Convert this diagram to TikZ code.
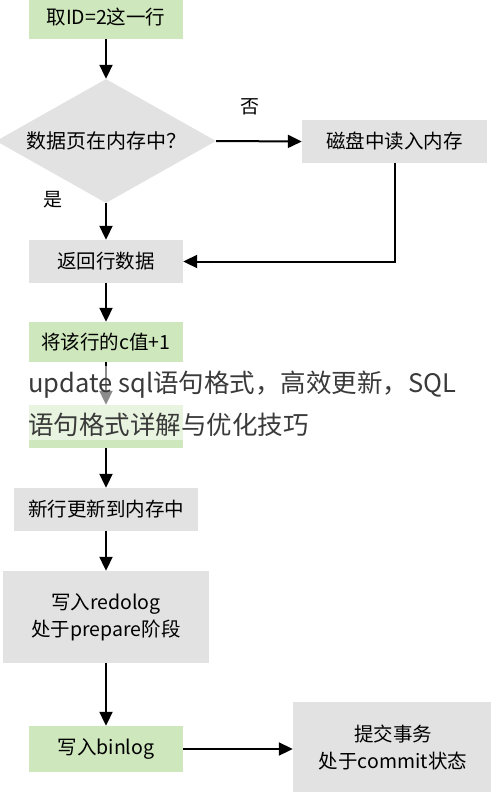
\documentclass[tikz,border=0pt]{standalone}
\usepackage{fontspec}
\setmainfont{Noto Sans CJK SC}
\usetikzlibrary{arrows.meta,shapes.geometric}
\definecolor{boxgreen}{RGB}{206,231,188}
\definecolor{boxgray}{RGB}{226,226,226}
\definecolor{captext}{RGB}{58,58,58}
\begin{document}
\begin{tikzpicture}[x=1pt,y=-1pt,
  box/.style={inner sep=0pt,align=center,font=\fontsize{19.5}{27}\selectfont},
  greenbox/.style={box,fill=boxgreen},
  graybox/.style={box,fill=boxgray},
  flow/.style={line width=2pt,-{Triangle[length=14pt,width=13pt]}}]
 \useasboundingbox (0,0) rectangle (490,792);

 % boxes of the flow
 \node[greenbox,minimum width=154,minimum height=44] (pick) at (106,17) {取ID=2这一行};
 \node[diamond,aspect=1.77,fill=boxgray,inner sep=0pt,minimum width=220,minimum height=124,
   font=\fontsize{20}{24}\selectfont] (inmem) at (106,141) {数据页在内存中？};
 \node[graybox,minimum width=185,minimum height=43] (disk) at (394.5,141.5) {磁盘中读入内存};
 \node[graybox,minimum width=154,minimum height=43] (ret) at (106,261.5) {返回行数据};
 \node[greenbox,minimum width=154,minimum height=40] (incr) at (106,342) {将该行的c值+1};
 \node[greenbox,minimum width=154,minimum height=43] (hidden) at (106,426.5) {};
 \node[graybox,minimum width=184,minimum height=43] (newrow) at (106,509.5) {新行更新到内存中};
 \node[graybox,minimum width=206,minimum height=92] (redo) at (106,617) {写入redolog\\处于prepare阶段};
 \node[greenbox,minimum width=154,minimum height=46] (binlog) at (106,749) {写入binlog};
 \node[graybox,minimum width=200,minimum height=92] (commit) at (393,748) {提交事务\\处于commit状态};

 % labels
 \node[font=\fontsize{19}{22}\selectfont] (no) at (250,107) {否};
 \node[font=\fontsize{19}{22}\selectfont] (yes) at (53,200) {是};

 % connectors
 \draw[flow] (pick) -- (inmem);
 \draw[flow] (inmem.east) -- (disk.west);
 \draw[flow] (inmem.south) -- (ret.north);
 \draw[flow] (disk.south) |- (ret.east);
 \draw[flow] (ret) -- (incr);
 \draw[flow] (incr) -- (hidden);
 \draw[flow] (hidden) -- (newrow);
 \draw[flow] (newrow) -- (redo);
 \draw[flow] (redo) -- (binlog);
 \draw[flow] (binlog) -- (commit.west |- binlog);

 % caption over the picture
 \fill[white,opacity=0.55] (0,366) rectangle (490,440);
 \node[anchor=west,inner sep=0pt,text=captext,font=\fontsize{25.5}{30}\selectfont] (cap1) at (28,385) {update sql语句格式，高效更新，SQL};
 \node[anchor=west,inner sep=0pt,text=captext,font=\fontsize{25.5}{30}\selectfont] (cap2) at (28,425) {语句格式详解与优化技巧};
\end{tikzpicture}
\end{document}
